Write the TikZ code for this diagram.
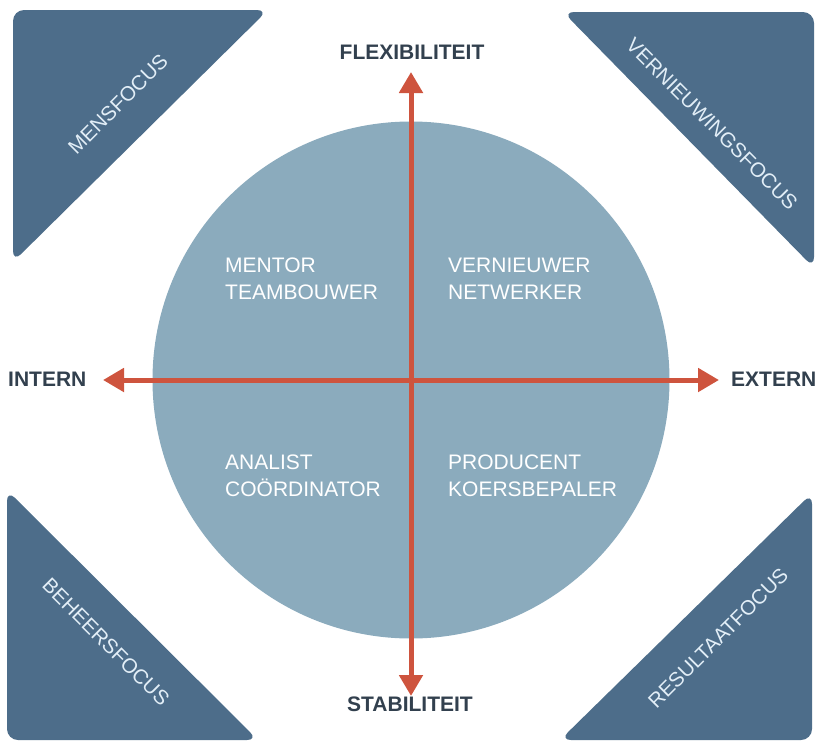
\documentclass[tikz,border=0pt]{standalone}
\usepackage{fontspec}
\setmainfont{Liberation Sans}
\usetikzlibrary{arrows.meta, positioning}
\definecolor{focusblue}{RGB}{77,109,138}
\definecolor{rolblue}{RGB}{139,171,189}
\definecolor{asrood}{RGB}{206,84,62}
\definecolor{asgrijs}{RGB}{50,64,78}
\definecolor{focustekst}{RGB}{226,238,247}
\tikzset{
    focus/.style={fill=focusblue, rounded corners=11pt},
    focuslabel/.style={text=focustekst, inner sep=0pt, font=\fontsize{20.5}{24}\selectfont},
    as/.style={draw=asrood, line width=5pt,
        {Triangle[length=21pt,width=23pt]}-{Triangle[length=21pt,width=23pt]}},
    aslabel/.style={text=asgrijs, inner sep=0pt, font=\bfseries\fontsize{21}{24}\selectfont},
    rol/.style={text=white, align=left, anchor=north west, inner sep=0pt,
        font=\fontsize{21}{27}\selectfont}
}

\begin{document}
\begin{tikzpicture}[x=1pt, y=-1pt]
    \def \R {258.5}
    \useasboundingbox (0,0) rectangle (816,742);
    % the four focus corners
    \fill[focus] (13,10) -- (268,10) -- (13,262) -- cycle;
    \fill[focus] (563,12) -- (814,12) -- (814,268) -- cycle;
    \fill[focus] (7,490) -- (258,740) -- (7,740) -- cycle;
    \fill[focus] (812,493) -- (812,740) -- (560,740) -- cycle;
    \node[focuslabel, rotate=45] (mens) at (118,104) {MENSFOCUS};
    \node[focuslabel, rotate=-45] (vern) at (712,124) {VERNIEUWINGSFOCUS};
    \node[focuslabel, rotate=-45] (beheer) at (106,642) {BEHEERSFOCUS};
    \node[focuslabel, rotate=45] (result) at (718,638) {RESULTAATFOCUS};
    % circle with the roles
    \coordinate (o) at (411,380);
    \fill[rolblue] (o) circle (\R);
    \node[rol] (nw) at (225,258) {MENTOR\\TEAMBOUWER};
    \node[rol] (ne) at (448,258) {VERNIEUWER\\NETWERKER};
    \node[rol] (sw) at (225,455) {ANALIST\\COÖRDINATOR};
    \node[rol] (se) at (448,455) {PRODUCENT\\KOERSBEPALER};
    % axes
    \coordinate (boven) at (411,72);
    \coordinate (onder) at (411,696);
    \coordinate (links) at (103,380);
    \coordinate (rechts) at (719,380);
    \draw[as] (onder) -- (boven);
    \draw[as] (links) -- (rechts);
    \node[aslabel] (flex) at (412,52) {FLEXIBILITEIT};
    \node[aslabel] (stab) at (410,704) {STABILITEIT};
    \node[aslabel, anchor=west] (intern) at (8,379) {INTERN};
    \node[aslabel, anchor=west] (extern) at (731,379) {EXTERN};
\end{tikzpicture}
\end{document}
